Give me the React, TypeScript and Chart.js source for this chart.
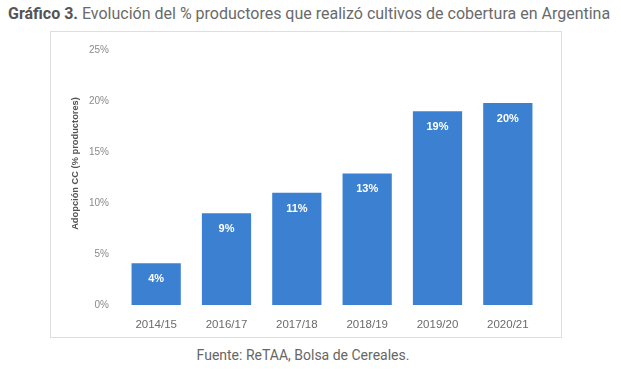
import React, { useEffect, useRef } from "react";
import { Chart, registerables } from "chart.js";

Chart.register(...registerables);

const categories = ["2014/15", "2016/17", "2017/18", "2018/19", "2019/20", "2020/21"];
const adoptionValues = [4.1, 9, 11, 12.9, 19, 19.8];
const valueLabels = ["4%", "9%", "11%", "13%", "19%", "20%"];
const yTicks = [0, 5, 10, 15, 20, 25];

const TITLE_BOLD = "Gráfico 3.";
const TITLE_REST = " Evolución del % productores que realizó cultivos de cobertura en Argentina";
const Y_TITLE = "Adopción CC (% productores)";
const SOURCE = "Fuente: ReTAA, Bolsa de Cereales.";

export default function App() {
  const canvasRef = useRef<HTMLCanvasElement | null>(null);

  useEffect(() => {
    if (!canvasRef.current) return;
    const labelPlugin = {
      id: "valueLabels",
      afterDatasetsDraw(chart: any) {
        const ctx = chart.ctx;
        const meta = chart.getDatasetMeta(0);
        ctx.save();
        ctx.fillStyle = "#ffffff";
        ctx.font = "bold 11px 'Liberation Sans', sans-serif";
        ctx.textAlign = "center";
        ctx.textBaseline = "middle";
        meta.data.forEach((bar: any, i: number) => {
          ctx.fillText(valueLabels[i], bar.x, bar.y + 16);
        });
        ctx.restore();
      },
      afterDraw(chart: any) {
        const ctx = chart.ctx;
        const area = chart.chartArea;
        ctx.save();
        ctx.fillStyle = "#555555";
        ctx.font = "bold 9.3px 'Liberation Sans', sans-serif";
        ctx.textAlign = "center";
        ctx.textBaseline = "middle";
        ctx.translate(24, (area.top + area.bottom) / 2 - 14);
        ctx.rotate(-Math.PI / 2);
        ctx.fillText(Y_TITLE, 0, 0);
        ctx.restore();
      },
    };

    const chart = new Chart(canvasRef.current, {
      type: "bar",
      data: {
        labels: categories,
        datasets: [
          {
            data: adoptionValues,
            backgroundColor: "#3b80d1",
            borderWidth: 0,
            categoryPercentage: 1,
            barPercentage: 0.7,
          },
        ],
      },
      options: {
        animation: false,
        responsive: false,
        maintainAspectRatio: false,
        layout: { padding: { top: 16, right: 18, left: 0, bottom: 0 } },
        plugins: {
          legend: { display: false },
          tooltip: { enabled: false },
          title: { display: false },
        },
        scales: {
          x: {
            grid: { display: false, drawTicks: false },
            border: { display: false },
            ticks: {
              color: "#6b6b6b",
              font: { family: "'Liberation Sans', sans-serif", size: 11.5 },
              padding: 13,
            },
            afterFit: (scale: any) => {
              scale.height = 32;
            },
          },
          y: {
            min: 0,
            max: 25,
            afterBuildTicks: (scale: any) => {
              scale.ticks = yTicks.map((v) => ({ value: v }));
            },
            grid: { display: false, drawTicks: false },
            border: { display: false },
            ticks: {
              color: "#8a8a8a",
              font: { family: "'Liberation Sans', sans-serif", size: 10 },
              padding: 12,
              callback: (v: any) => v + "%",
            },
            afterFit: (scale: any) => {
              scale.width = 70;
            },
          },
        },
      },
      plugins: [labelPlugin],
    });
    return () => chart.destroy();
  }, []);

  return (
    <div
      style={{
        position: "fixed",
        left: 0,
        top: 0,
        width: 621,
        height: 373,
        background: "#ffffff",
        overflow: "hidden",
      }}
    >
      <div
        style={{
          position: "absolute",
          left: 8,
          top: 4,
          whiteSpace: "nowrap",
          fontFamily: "Roboto, sans-serif",
          fontSize: 16,
          color: "#6a6a6a",
          lineHeight: "20px",
        }}
      >
        <span style={{ fontWeight: "bold", color: "#555555" }}>{TITLE_BOLD}</span>
        {TITLE_REST}
      </div>
      <div
        style={{
          position: "absolute",
          left: 50,
          top: 31,
          width: 510,
          height: 305,
          border: "1px solid #dedede",
        }}
      >
        <canvas ref={canvasRef} width={510} height={305} style={{ display: "block" }} />
      </div>
      <div
        style={{
          position: "absolute",
          left: 0,
          width: 606,
          top: 346,
          textAlign: "center",
          fontFamily: "Roboto, sans-serif",
          fontSize: 14,
          color: "#666666",
          lineHeight: "18px",
        }}
      >
        {SOURCE}
      </div>
    </div>
  );
}
